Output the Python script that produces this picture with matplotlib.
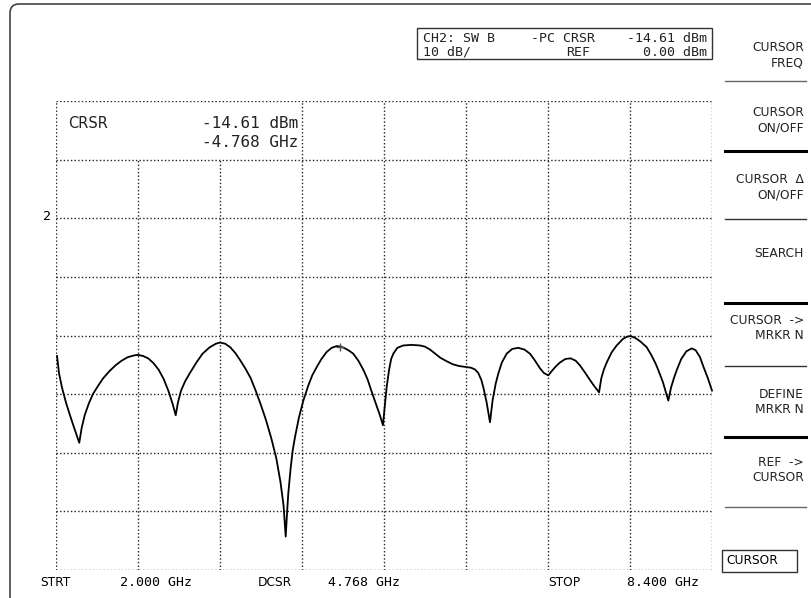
import matplotlib
matplotlib.use("Agg")
import matplotlib.pyplot as plt
from matplotlib.patches import FancyBboxPatch, Rectangle

# trace: frequency (GHz) and level (dB, relative to marker 2 line)
freq_ghz = [2.010, 2.030, 2.060, 2.100, 2.140, 2.180, 2.227,
            2.250, 2.280, 2.320, 2.360, 2.410, 2.460, 2.520, 2.580, 2.640, 2.700, 2.760, 2.800,
            2.850, 2.900, 2.950, 3.000, 3.050, 3.100, 3.140, 3.168,
            3.190, 3.220, 3.260, 3.310, 3.370, 3.430, 3.500, 3.560, 3.600, 3.650, 3.700, 3.750,
            3.800, 3.850, 3.900, 3.950, 4.000, 4.050, 4.100, 4.150, 4.190, 4.220, 4.241,
            4.255, 4.266, 4.290, 4.310, 4.332, 4.370, 4.413, 4.460, 4.500, 4.543, 4.590, 4.641,
            4.690, 4.739, 4.780, 4.820, 4.860, 4.900, 4.950, 5.000, 5.040, 5.080, 5.120, 5.160,
            5.190,
            5.205, 5.226, 5.250, 5.270, 5.291, 5.330, 5.388, 5.470, 5.551, 5.600, 5.649, 5.700,
            5.750, 5.812, 5.870, 5.930, 6.007, 6.050, 6.088, 6.120, 6.150, 6.170, 6.200, 6.234,
            6.260, 6.290, 6.315, 6.350, 6.397, 6.450, 6.510, 6.570, 6.624, 6.670, 6.722, 6.760,
            6.803,
            6.840, 6.880, 6.917, 6.970, 7.021, 7.070, 7.112, 7.160, 7.210, 7.250, 7.298,
            7.320, 7.345, 7.373, 7.420, 7.470, 7.530, 7.570, 7.607, 7.650, 7.700, 7.763, 7.810,
            7.850, 7.876, 7.920, 7.974,
            8.000, 8.030, 8.056, 8.100, 8.150, 8.202, 8.240, 8.283, 8.320, 8.360, 8.400]
level_db = [-23.5, -26.5, -29.0, -31.6, -33.8, -35.9, -38.3,
            -35.8, -33.6, -31.6, -30.0, -28.6, -27.3, -26.1, -25.1, -24.3, -23.7, -23.4, -23.3,
            -23.5, -23.9, -24.7, -25.8, -27.4, -29.6, -31.8, -33.6,
            -31.4, -29.4, -27.8, -26.3, -24.6, -23.1, -22.0, -21.4, -21.2, -21.4, -22.0, -23.0,
            -24.3, -25.7, -27.3, -29.5, -31.9, -34.5, -37.5, -41.0, -45.0, -49.0, -54.3,
            -50.0, -47.0, -42.5, -39.5, -37.3, -34.0, -31.1, -28.6, -26.8, -25.4, -24.0, -22.8,
            -22.1, -21.8, -21.9, -22.2, -22.6, -23.1, -24.3, -25.9, -27.5, -29.6, -31.6, -33.6,
            -35.3,
            -32.5, -28.8, -25.8, -24.0, -23.1, -22.1, -21.7, -21.6, -21.7, -21.9, -22.4, -23.1,
            -23.8, -24.4, -24.9, -25.2, -25.4, -25.5, -25.8, -26.4, -27.6, -28.9, -31.3, -34.8,
            -31.0, -28.2, -26.5, -24.6, -23.1, -22.3, -22.1, -22.4, -23.1, -24.2, -25.6, -26.4,
            -26.8,
            -26.0, -25.2, -24.6, -24.0, -23.9, -24.3, -25.1, -26.3, -27.6, -28.6, -29.7,
            -27.3, -25.8, -24.6, -22.9, -21.7, -20.6, -20.2, -20.1, -20.4, -21.0, -22.0, -23.4,
            -24.8, -25.9, -27.9, -31.1,
            -28.9, -27.2, -25.9, -24.0, -22.7, -22.2, -22.5, -23.7, -25.5, -27.3, -29.4]

cursor_freq = 4.768
cursor_level = -21.9

menu_items = ["CURSOR\nFREQ", "CURSOR\nON/OFF", "CURSOR  \u0394\nON/OFF", "SEARCH",
              "CURSOR  ->\nMRKR N", "DEFINE\nMRKR N", "REF  ->\nCURSOR"]

W, H = 812, 598
fig = plt.figure(figsize=(W / 100, H / 100), dpi=100)
plt.rcParams['font.family'] = ['DejaVu Sans']


def fx(x):
    return x / W


def fy(y):
    return 1 - y / H


# rounded outer frame of the screen
frame = FancyBboxPatch((10 / 100, -20 / 100), 830 / 100, (H - 4 + 20) / 100,
                       boxstyle="round,pad=0,rounding_size=0.09",
                       transform=fig.dpi_scale_trans, fill=False, lw=1.1, ec='#333333')
fig.patches.append(frame)

# graticule area 56..712 x 101..570
ax = fig.add_axes([fx(56), fy(570), fx(712) - fx(56), fy(101) - fy(570)])
ax.set_xlim(2.0, 8.4)
ax.set_ylim(-60, 20)
ax.axis('off')

dot = dict(color='#222222', lw=1.0, ls=(0, (1, 1.6)))
for i in range(9):
    f = 2.0 + i * 0.8
    top = 10 if i in (1, 2) else 20
    ax.vlines(f, -60, top, **dot)
for j in range(9):
    ax.hlines(-60 + j * 10, 2.0, 8.4, **dot)

ax.plot(freq_ghz, level_db, color='black', lw=1.3, clip_on=False,
        solid_joinstyle='round')
ax.plot([cursor_freq], [cursor_level], marker='+', ms=6, mew=1.0, color='#555555')

# cursor readout overlay
fig.text(fx(68), fy(123), "CRSR", fontsize=10.5, va='center', ha='left', color='#222222')
fig.text(fx(298), fy(123), "-14.61 dBm", family='DejaVu Sans Mono', fontsize=11.5,
         va='center', ha='right', color='#222222')
fig.text(fx(298), fy(143), "-4.768 GHz", family='DejaVu Sans Mono', fontsize=11.5,
         va='center', ha='right', color='#222222')
fig.text(fx(51), fy(217), "2", family='DejaVu Sans Mono', fontsize=9.5, va='center', ha='right')

# channel info box
fig.patches.append(Rectangle((fx(417), fy(59)), fx(712) - fx(417), fy(28) - fy(59),
                             transform=fig.transFigure, fill=False, lw=1.0, ec='#333333'))
mono = dict(family='DejaVu Sans Mono', fontsize=9.5, va='center', color='#222222')
fig.text(fx(423), fy(39), "CH2: SW B", ha='left', **mono)
fig.text(fx(531), fy(39), "-PC CRSR", ha='left', **mono)
fig.text(fx(707), fy(39), "-14.61 dBm", ha='right', **mono)
fig.text(fx(423), fy(52), "10 dB/", ha='left', **mono)
fig.text(fx(566), fy(52), "REF", ha='left', **mono)
fig.text(fx(707), fy(52), "0.00 dBm", ha='right', **mono)

# softkey menu
menu_y = [55, 120, 187, 253, 328, 402, 470]
for label, y in zip(menu_items, menu_y):
    fig.text(fx(804), fy(y), label, fontsize=8.8, ha='right', va='center',
             linespacing=1.25, color='#222222')
seps = [(81, 1.0, '#666666'), (151, 2.2, 'black'), (219, 1.0, '#333333'), (303, 2.2, 'black'),
        (366, 1.0, '#333333'), (437, 2.2, 'black'), (507, 1.0, '#666666')]
for y, lw, c in seps:
    fig.add_artist(plt.Line2D([fx(725), fx(806)], [fy(y), fy(y)], lw=lw, color=c))
fig.patches.append(Rectangle((fx(722), fy(572)), fx(797) - fx(722), fy(550) - fy(572),
                             transform=fig.transFigure, fill=False, lw=1.0, ec='#333333'))
fig.text(fx(726), fy(561), "CURSOR", fontsize=8.8, ha='left', va='center')

# bottom annotations
fig.text(fx(40), fy(582), "STRT", fontsize=8.8, ha='left', va='center')
fig.text(fx(120), fy(582), "2.000 GHz", family='DejaVu Sans Mono', fontsize=9.5,
         ha='left', va='center')
fig.text(fx(258), fy(582), "DCSR", fontsize=8.8, ha='left', va='center')
fig.text(fx(328), fy(582), "4.768 GHz", family='DejaVu Sans Mono', fontsize=9.5,
         ha='left', va='center')
fig.text(fx(548), fy(582), "STOP", fontsize=8.8, ha='left', va='center')
fig.text(fx(627), fy(582), "8.400 GHz", family='DejaVu Sans Mono', fontsize=9.5,
         ha='left', va='center')

fig.savefig("out.png", dpi=100)
